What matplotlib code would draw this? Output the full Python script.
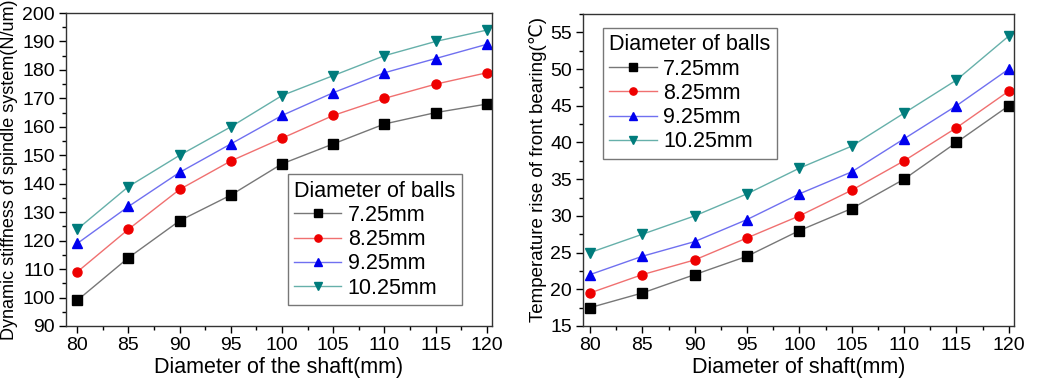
import matplotlib
matplotlib.use("Agg")
import matplotlib.pyplot as plt
from matplotlib.ticker import MultipleLocator

plt.rcParams['font.family'] = ['Liberation Sans', 'DejaVu Sans']

shaft = [80, 85, 90, 95, 100, 105, 110, 115, 120]
balls = ["7.25mm", "8.25mm", "9.25mm", "10.25mm"]

# dynamic stiffness (N/um)
stiff_725 = [99, 114, 127, 136, 147, 154, 161, 165, 168]
stiff_825 = [109, 124, 138, 148, 156, 164, 170, 175, 179]
stiff_925 = [119, 132, 144, 154, 164, 172, 179, 184, 189]
stiff_1025 = [124, 139, 150, 160, 171, 178, 185, 190, 194]

# temperature rise of front bearing
temp_725 = [17.5, 19.5, 22, 24.5, 28, 31, 35, 40, 45]
temp_825 = [19.5, 22, 24, 27, 30, 33.5, 37.5, 42, 47]
temp_925 = [22, 24.5, 26.5, 29.5, 33, 36, 40.5, 45, 50]
temp_1025 = [25, 27.5, 30, 33, 36.5, 39.5, 44, 48.5, 54.5]

marker_cols = ["black", "#ee0000", "#0000ee", "#007c7c"]
line_cols = ["#777777", "#f07070", "#7070f0", "#66b0aa"]
markers = ["s", "o", "^", "v"]

fig = plt.figure(figsize=(10.37, 3.8), dpi=100)
ax1 = fig.add_axes([66 / 1037, 1 - 326 / 380, 426 / 1037, 313 / 380])
ax2 = fig.add_axes([583 / 1037, 1 - 326 / 380, 431 / 1037, 312 / 380])


def draw(ax, series):
    for ys, name, mc, lc, m in zip(series, balls, marker_cols, line_cols, markers):
        ax.plot(shaft, ys, color=lc, lw=1.0, marker=m, markersize=6.5,
                markerfacecolor=mc, markeredgecolor=mc, label=name)
    ax.xaxis.set_major_locator(MultipleLocator(5))
    ax.xaxis.set_minor_locator(MultipleLocator(2.5))
    ax.tick_params(which='major', direction='out', length=5, width=1, labelsize=14, pad=3)
    ax.tick_params(which='minor', direction='out', length=3, width=1)
    for s in ax.spines.values():
        s.set_linewidth(1.0)
        s.set_color("#333333")


def legend(ax, **kw):
    leg = ax.legend(title="Diameter of balls", fontsize=15.5, title_fontsize=15.5,
                    frameon=True, fancybox=False, handlelength=2.2, handletextpad=0.3,
                    borderpad=0.3, labelspacing=0.15, borderaxespad=0, markerscale=0.8,
                    alignment='left', **kw)
    leg.get_frame().set_edgecolor("#555555")
    leg.get_frame().set_linewidth(1.0)


draw(ax1, [stiff_725, stiff_825, stiff_925, stiff_1025])
ax1.set_xlim(78.9, 120.5)
ax1.set_ylim(90, 200)
ax1.yaxis.set_major_locator(MultipleLocator(10))
ax1.yaxis.set_minor_locator(MultipleLocator(5))
ax1.set_xlabel("Diameter of the shaft(mm)", fontsize=15.5, labelpad=2)
ax1.set_ylabel("Dynamic stiffness of spindle system(N/um)", fontsize=13, labelpad=3)
legend(ax1, loc="lower left", bbox_to_anchor=(0.52, 0.067))

draw(ax2, [temp_725, temp_825, temp_925, temp_1025])
ax2.set_xlim(79.33, 120.5)
ax2.set_ylim(15, 57.5)
ax2.yaxis.set_major_locator(MultipleLocator(5))
ax2.yaxis.set_minor_locator(MultipleLocator(2.5))
ax2.set_xlabel("Diameter of shaft(mm)", fontsize=15.5, labelpad=2)
ax2.set_ylabel("Temperature rise of front bearing(℃)", fontsize=13.5, labelpad=2)
legend(ax2, loc="upper left", bbox_to_anchor=(0.046, 0.955))

fig.savefig("out.png", dpi=100)
